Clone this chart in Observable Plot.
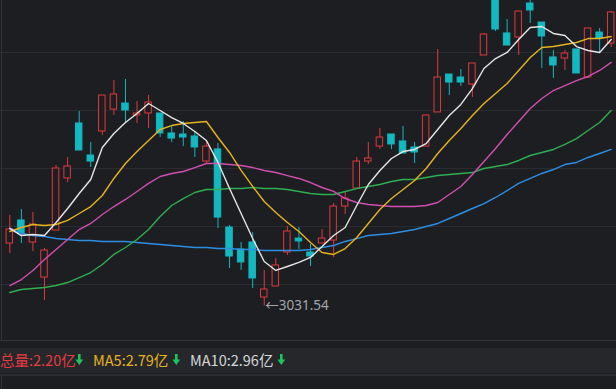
<!DOCTYPE html>
<html><head><meta charset="utf-8">
<script src="https://cdn.jsdelivr.net/npm/d3@7"></script>
<script src="https://cdn.jsdelivr.net/npm/@observablehq/plot@0.6"></script>
<style>
html,body{margin:0;padding:0;background:#1d1e22;overflow:hidden}
#wrap{position:relative;width:616px;height:389px;background:#1d1e22;overflow:hidden}
#chart{position:absolute;left:0;top:0}
#leftBorder{position:absolute;left:1px;top:0;width:1px;height:340px;background:#303237}
#bottom{position:absolute;left:0;top:340px}
</style></head><body>
<div id="wrap">
  <div id="chart"></div>
  <div id="leftBorder"></div>
  <svg id="bottom" width="616" height="49"></svg>
</div>
<script>
// OHLC per trading day (index points)
const opens  = [3085.3,3105.2,3086.2,3056.0,3096.5,3141.4,3188.8,3161.2,3181.9,3200.8,3206.0,3195.7,3197.4,3197.4,3180.2,3179.3,3177.6,3156.0,3166.4,3099.1,3080.2,3086.2,3038.8,3048.3,3077.6,3089.6,3077.6,3085.3,3087.9,3117.2,3132.7,3156.0,3168.9,3179.3,3173.3,3168.1,3168.9,3198.3,3231.0,3228.4,3222.4,3247.4,3298.0,3266.4,3262.9,3292.2,3275.8,3245.7,3244.8,3252.6,3228.4,3267.2,3257.7];
const closes = [3097.4,3094.0,3101.7,3079.3,3150.0,3151.7,3165.5,3156.0,3212.9,3213.8,3200.0,3197.4,3206.9,3180.2,3175.8,3176.7,3168.1,3168.9,3107.7,3074.1,3069.0,3055.2,3045.7,3066.4,3095.7,3087.1,3074.1,3089.6,3117.2,3124.1,3156.0,3158.6,3176.7,3170.7,3162.9,3163.8,3195.7,3228.4,3224.1,3224.1,3240.5,3265.5,3269.8,3256.0,3285.3,3286.2,3263.8,3238.8,3249.1,3231.9,3270.7,3262.0,3284.5];
const highs  = [3109.5,3114.6,3112.1,3081.0,3152.6,3159.5,3199.1,3172.4,3212.9,3225.8,3226.7,3207.7,3212.9,3197.4,3187.0,3190.5,3181.9,3174.1,3171.5,3100.8,3086.2,3094.8,3062.1,3072.4,3100.0,3099.1,3084.5,3097.4,3119.8,3129.3,3159.5,3172.4,3184.5,3179.3,3186.2,3172.4,3195.7,3252.6,3231.0,3235.3,3240.5,3266.4,3305.0,3278.4,3285.3,3300.0,3275.8,3251.7,3251.7,3252.6,3270.7,3270.7,3285.3];
const lows   = [3076.7,3085.3,3078.4,3036.2,3096.5,3137.9,3165.5,3150.8,3178.4,3195.7,3189.6,3188.8,3184.5,3176.7,3172.4,3168.9,3159.5,3154.3,3098.3,3063.8,3062.1,3046.5,3031.54,3048.3,3075.0,3080.2,3065.5,3085.3,3073.3,3110.3,3132.7,3153.4,3166.4,3166.4,3162.9,3154.3,3168.9,3198.3,3212.9,3220.7,3211.2,3247.4,3268.1,3256.0,3247.4,3275.0,3236.2,3227.6,3234.5,3231.9,3227.6,3249.1,3254.3];

// moving averages
const ma5  = [3098.3,3092.2,3093.1,3092.2,3103.4,3115.5,3128.4,3140.5,3168.1,3180.2,3189.6,3197.4,3206.0,3200.0,3193.9,3188.8,3181.9,3174.1,3155.2,3132.7,3111.2,3089.6,3069.8,3062.1,3065.5,3069.0,3073.3,3082.7,3092.2,3099.1,3118.1,3136.2,3148.3,3158.6,3164.6,3166.4,3171.5,3183.6,3195.7,3205.2,3218.9,3236.2,3244.8,3250.0,3261.2,3271.5,3272.4,3266.4,3264.6,3255.1,3251.7,3250.0,3261.2];
const ma10 = [3095.7,3099.1,3101.7,3100.8,3101.7,3105.2,3111.2,3117.2,3126.7,3141.4,3154.3,3164.6,3174.1,3183.6,3187.0,3188.8,3189.6,3190.5,3176.7,3163.8,3148.3,3134.5,3121.5,3112.1,3103.4,3095.7,3086.2,3077.6,3075.9,3081.0,3090.5,3102.6,3114.6,3124.1,3131.9,3139.6,3150.0,3162.9,3174.1,3184.5,3195.7,3206.0,3214.6,3223.3,3234.5,3245.7,3254.3,3255.1,3256.9,3258.6,3262.0,3262.0,3263.8];
const ma20 = [3049.1,3054.3,3062.1,3071.5,3080.2,3088.8,3097.4,3102.6,3110.3,3117.2,3123.3,3130.2,3137.1,3143.1,3145.7,3147.4,3150.8,3154.3,3154.3,3153.4,3152.6,3150.8,3148.3,3146.5,3143.9,3141.4,3137.9,3133.6,3130.2,3124.1,3120.7,3119.0,3118.1,3117.2,3117.2,3117.2,3118.1,3120.7,3127.6,3134.5,3144.8,3156.0,3167.2,3179.3,3190.5,3201.7,3210.3,3217.2,3221.5,3225.8,3229.3,3234.5,3241.4];
const ma30 = [3043.1,3045.7,3046.5,3047.4,3049.1,3051.7,3056.0,3060.3,3067.2,3075.9,3081.9,3088.8,3097.4,3108.6,3118.1,3124.1,3129.3,3131.9,3131.9,3132.7,3132.7,3133.6,3132.7,3132.7,3131.9,3130.2,3128.4,3127.6,3127.6,3130.2,3132.7,3134.5,3136.2,3138.8,3140.5,3140.5,3142.2,3143.9,3144.8,3145.7,3146.5,3150.0,3151.7,3153.4,3156.9,3161.2,3163.8,3166.4,3170.7,3175.8,3182.7,3189.6,3200.0];
const ma60 = [3098.3,3094.0,3092.2,3091.4,3089.6,3088.8,3087.9,3087.9,3087.1,3087.1,3087.1,3086.2,3085.3,3084.5,3083.6,3082.7,3081.9,3081.9,3081.0,3081.0,3080.2,3080.2,3079.3,3079.3,3079.3,3079.3,3080.2,3081.9,3083.6,3087.1,3089.6,3092.2,3093.1,3094.0,3095.7,3097.4,3100.0,3102.6,3106.9,3111.2,3115.5,3119.8,3125.0,3131.0,3137.1,3141.4,3145.7,3149.1,3153.4,3155.2,3159.5,3162.9,3166.4];

const gridLevels = [3050, 3100, 3150, 3200, 3250];
const lowMark = [{i: 22, v: 3031.54}];

const legendItems = [
  {label: "总量:2.20亿", color: "#e43c42"},
  {label: "MA5:2.79亿", color: "#e5b41f"},
  {label: "MA10:2.96亿", color: "#d6d7d9"}
];

const RED = "#e0393e", CYAN = "#13b8c0", BG = "#1d1e22";
const candles = opens.map((o, i) => ({i, open: o, close: closes[i], high: highs[i], low: lows[i], up: closes[i] >= o}));
const series = (arr) => arr.map((v, i) => ({i, v}));

const plot = Plot.plot({
  width: 616, height: 340,
  marginTop: 0, marginBottom: 0, marginLeft: 0, marginRight: 0,
  style: {background: "transparent"},
  x: {domain: [0, 52], range: [9.3, 610.7], axis: null},
  y: {domain: [3000, 3294.8], range: [342, 0], axis: null},
  color: {type: "identity"},
  marks: [
    Plot.ruleY(gridLevels, {stroke: "#2c2e33", strokeWidth: 1}),
    Plot.ruleX(candles, {x: "i", y1: "low", y2: "high", stroke: d => d.up ? RED : CYAN, strokeWidth: 1, clip: true}),
    Plot.rect(candles, {
      x1: d => d.i - 0.28, x2: d => d.i + 0.28,
      y1: d => Math.min(d.open, d.close), y2: d => Math.max(d.open, d.close),
      fill: d => d.up ? BG : CYAN, stroke: d => d.up ? RED : CYAN, strokeWidth: 1, clip: true
    }),
    Plot.line(series(ma60), {x: "i", y: "v", stroke: "#2e8ee3", strokeWidth: 1.4}),
    Plot.line(series(ma30), {x: "i", y: "v", stroke: "#2fae52", strokeWidth: 1.4}),
    Plot.line(series(ma20), {x: "i", y: "v", stroke: "#d14fb0", strokeWidth: 1.4}),
    Plot.line(series(ma10), {x: "i", y: "v", stroke: "#e5b41f", strokeWidth: 1.4}),
    Plot.line(series(ma5), {x: "i", y: "v", stroke: "#e6e6e6", strokeWidth: 1.4}),
    Plot.text(lowMark, {x: "i", y: "v", text: d => "←" + d.v.toFixed(2), textAnchor: "start", dx: 1,
      fill: "#a3a5aa", fontSize: 13.5, fontFamily: "'Noto Sans', 'Noto Sans CJK SC', sans-serif"})
  ]
});
document.getElementById("chart").appendChild(plot);

// info bar below the chart
const svg = d3.select("#bottom");
svg.append("rect").attr("x", 0).attr("y", 0).attr("width", 616).attr("height", 1).attr("fill", "#34363b");
svg.append("rect").attr("x", 0).attr("y", 8).attr("width", 616).attr("height", 25).attr("fill", "#25272b");
svg.append("rect").attr("x", 0).attr("y", 34.5).attr("width", 616).attr("height", 1).attr("fill", "#37393e");
svg.append("rect").attr("x", 1).attr("y", 36).attr("width", 1).attr("height", 13).attr("fill", "#303237");
const xs = [0, 93, 190];
const ax = [76, 173, 278];
legendItems.forEach((d, k) => {
  svg.append("text").attr("x", xs[k]).attr("y", 26).attr("fill", d.color)
    .attr("font-family", "'Noto Sans CJK SC', 'Noto Sans', sans-serif").attr("font-size", 14.5)
    .text(d.label);
  const a = ax[k];
  svg.append("path")
    .attr("d", `M${a+2},14 h2.6 v5.5 h2.6 l-3.9,5.5 l-3.9,-5.5 h2.6 z`)
    .attr("fill", "#1ec35a");
});
</script>
</body></html>
